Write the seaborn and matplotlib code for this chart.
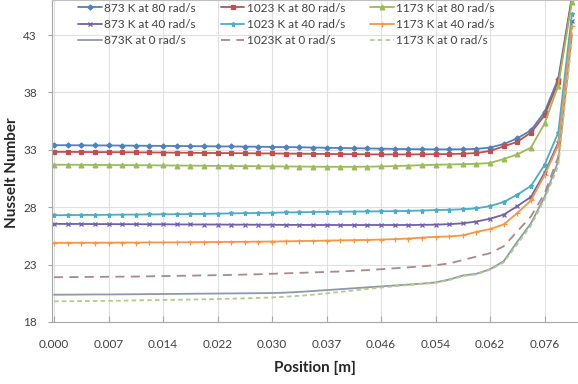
import numpy as np
import pandas as pd
import matplotlib
matplotlib.use("Agg")
import matplotlib.pyplot as plt
import seaborn as sns

# axial positions [m] (category axis, equally spaced in the chart)
position = [0.000, 0.002, 0.004, 0.005, 0.007, 0.009, 0.011, 0.013, 0.014, 0.016,
            0.018, 0.020, 0.022, 0.024, 0.026, 0.028, 0.030, 0.031, 0.033, 0.035,
            0.037, 0.039, 0.042, 0.044, 0.046, 0.048, 0.050, 0.052, 0.054, 0.056,
            0.058, 0.060, 0.062, 0.066, 0.069, 0.073, 0.076, 0.078, 0.080]

nu_873_80 = [33.40, 33.40, 33.39, 33.38, 33.38, 33.37, 33.36, 33.35, 33.34, 33.33,
             33.32, 33.31, 33.30, 33.29, 33.28, 33.27, 33.25, 33.24, 33.22, 33.20,
             33.18, 33.16, 33.14, 33.12, 33.10, 33.08, 33.06, 33.05, 33.04, 33.04,
             33.05, 33.08, 33.20, 33.50, 34.00, 34.70, 36.30, 39.20, 46.30]
nu_873_40 = [26.55, 26.54, 26.54, 26.53, 26.53, 26.52, 26.52, 26.51, 26.51, 26.50,
             26.50, 26.49, 26.49, 26.48, 26.48, 26.47, 26.47, 26.46, 26.46, 26.45,
             26.45, 26.45, 26.45, 26.45, 26.45, 26.45, 26.45, 26.46, 26.48, 26.52,
             26.60, 26.75, 27.00, 27.35, 28.10, 28.90, 31.00, 33.60, 44.20]
nu_873_0 = [20.38, 20.38, 20.39, 20.40, 20.40, 20.41, 20.42, 20.43, 20.44, 20.45,
            20.46, 20.47, 20.48, 20.49, 20.50, 20.51, 20.52, 20.56, 20.62, 20.70,
            20.78, 20.86, 20.94, 21.02, 21.10, 21.18, 21.26, 21.34, 21.45, 21.70,
            22.05, 22.20, 22.60, 23.30, 25.00, 26.60, 28.90, 32.00, 43.00]
nu_1023_80 = [32.82, 32.82, 32.81, 32.80, 32.80, 32.79, 32.78, 32.77, 32.76, 32.75,
              32.74, 32.73, 32.72, 32.71, 32.70, 32.69, 32.68, 32.67, 32.66, 32.65,
              32.64, 32.63, 32.62, 32.61, 32.60, 32.60, 32.60, 32.61, 32.62, 32.63,
              32.66, 32.72, 32.90, 33.30, 33.70, 34.50, 36.00, 38.90, 46.20]
nu_1023_40 = [27.30, 27.31, 27.32, 27.33, 27.34, 27.35, 27.36, 27.37, 27.38, 27.39,
              27.40, 27.42, 27.44, 27.46, 27.48, 27.50, 27.52, 27.54, 27.56, 27.58,
              27.60, 27.61, 27.62, 27.63, 27.64, 27.66, 27.68, 27.71, 27.75, 27.78,
              27.82, 27.90, 28.10, 28.45, 29.10, 29.85, 31.70, 34.50, 44.80]
nu_1023_0 = [21.90, 21.91, 21.92, 21.93, 21.94, 21.95, 21.96, 21.98, 22.00, 22.02,
             22.04, 22.06, 22.08, 22.10, 22.13, 22.16, 22.20, 22.24, 22.28, 22.32,
             22.36, 22.40, 22.46, 22.52, 22.60, 22.68, 22.76, 22.85, 22.95, 23.10,
             23.40, 23.70, 24.00, 24.60, 25.90, 27.20, 29.20, 32.40, 43.40]
nu_1173_80 = [31.70, 31.70, 31.69, 31.68, 31.68, 31.67, 31.66, 31.65, 31.64, 31.63,
              31.62, 31.61, 31.60, 31.59, 31.58, 31.57, 31.56, 31.55, 31.54, 31.53,
              31.52, 31.52, 31.52, 31.53, 31.55, 31.58, 31.62, 31.66, 31.70, 31.72,
              31.75, 31.78, 31.85, 32.20, 32.60, 33.20, 35.30, 38.60, 45.90]
nu_1173_40 = [24.90, 24.90, 24.90, 24.91, 24.91, 24.92, 24.92, 24.93, 24.93, 24.94,
              24.95, 24.96, 24.97, 24.98, 24.99, 25.00, 25.01, 25.03, 25.05, 25.07,
              25.09, 25.11, 25.13, 25.15, 25.18, 25.22, 25.27, 25.35, 25.42, 25.45,
              25.55, 25.85, 26.10, 26.50, 27.50, 28.60, 30.80, 33.40, 43.80]
nu_1173_0 = [19.80, 19.81, 19.82, 19.83, 19.84, 19.86, 19.88, 19.90, 19.92, 19.94,
             19.96, 19.98, 20.00, 20.03, 20.06, 20.10, 20.14, 20.20, 20.28, 20.38,
             20.50, 20.62, 20.75, 20.88, 21.00, 21.12, 21.22, 21.32, 21.42, 21.65,
             22.00, 22.15, 22.55, 23.20, 24.80, 26.40, 28.70, 31.60, 42.50]

# (label, values, color, marker, marker size, linestyle)
series = [
    ("873 K at 80 rad/s", nu_873_80, "#4F81BD", "D", 2.6, "-"),
    ("873 K at 40 rad/s", nu_873_40, "#7060A8", "x", 3, "-"),
    ("873K at 0 rad/s", nu_873_0, "#8E98AC", None, 0, "-"),
    ("1023 K at 80 rad/s", nu_1023_80, "#C0504D", "s", 3.4, "-"),
    ("1023 K at 40 rad/s", nu_1023_40, "#4BACC6", "*", 3.6, "-"),
    ("1023K at 0 rad/s", nu_1023_0, "#A88A8A", None, 0, (0, (5, 3.5))),
    ("1173 K at 80 rad/s", nu_1173_80, "#9BBB59", "^", 3.4, "-"),
    ("1173 K at 40 rad/s", nu_1173_40, "#F79646", "+", 3.6, "-"),
    ("1173 K at 0 rad/s", nu_1173_0, "#B3CB8A", None, 0, (0, (2.5, 1.8))),
]

idx = np.arange(len(position))

sns.set_style("whitegrid", {"grid.color": "#E0E0E0", "axes.edgecolor": "#A6A6A6"})
plt.rcParams["font.family"] = ["Lato", "DejaVu Sans"]

fig = plt.figure(figsize=(5.78, 3.84), dpi=100)
ax = fig.add_axes([52 / 578, 62 / 384, 526 / 578, 322 / 384])

for label, vals, color, marker, ms, ls in series:
    df = pd.DataFrame({"idx": idx, "nu": vals})
    sns.lineplot(data=df, x="idx", y="nu", ax=ax, color=color, label=label,
                 marker=marker, markersize=ms, markeredgecolor=color,
                 markeredgewidth=0.9, linewidth=1.3, linestyle=ls)

ax.set_xlim(-0.15, 38.45)
ax.set_ylim(18, 46.05)
ax.set_yticks([18, 23, 28, 33, 38, 43])
tick_idx = idx[::4][:10]
ax.set_xticks(tick_idx)
ax.set_xticklabels([f"{position[i]:.3f}" for i in tick_idx])
ax.tick_params(axis="x", direction="in", length=4, color="#A6A6A6",
               labelsize=8.5, labelcolor="#404040", pad=12)
ax.tick_params(axis="y", direction="out", length=3, color="#A6A6A6",
               labelsize=8.5, labelcolor="#404040", pad=8)
ax.xaxis.set_tick_params(bottom=True)
ax.yaxis.set_tick_params(left=True)

ax.spines["right"].set_visible(False)
ax.spines["top"].set_color("#BFBFBF")

ax.set_xlabel("Position [m]", fontsize=11, fontweight="bold", labelpad=8)
ax.set_ylabel("Nusselt Number", fontsize=11, fontweight="bold", va="center")
ax.yaxis.set_label_coords(-0.076, 0.465)

ax.legend(ncol=3, loc="upper left", bbox_to_anchor=(0.03, 1.025), frameon=False,
          fontsize=8.5, handlelength=2.0, handletextpad=0.2, columnspacing=2.1,
          labelspacing=0.45, labelcolor="#404040")

fig.savefig("out.png", dpi=100)
